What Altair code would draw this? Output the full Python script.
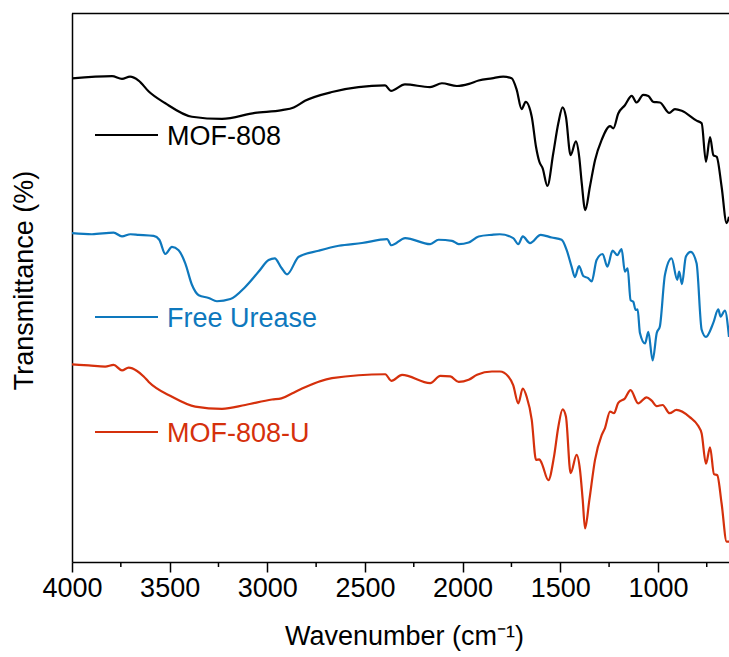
import altair as alt
import pandas as pd

# ---- data (wavenumber in cm-1, transmittance in arbitrary % units) ----
mof_wn = [4000, 3795, 3744, 3703, 3659, 3607, 3524, 3386, 3232, 3063, 2925, 2865, 2807, 2669, 2397,
          2367, 2295, 2167, 2106, 2029, 1967, 1918, 1850, 1792, 1749, 1723, 1698, 1677, 1646, 1624,
          1607, 1590, 1566, 1536, 1510, 1488, 1471, 1447, 1420, 1403, 1390, 1372, 1348, 1322, 1288,
          1245, 1228, 1203, 1169, 1134, 1109, 1075, 1049, 1024, 990, 942, 913, 878, 802, 776,
          754, 733, 716, 699, 674, 648, 636]
mof_t = [88.1, 88.5, 88.0, 88.4, 87.7, 85.7, 83.6, 81.1, 80.7, 81.8, 82.3, 82.8, 84.0, 85.6, 86.8,
         85.8, 87.0, 86.5, 87.2, 86.7, 87.1, 87.7, 88.1, 88.4, 88.1, 86.0, 82.5, 83.8, 81.1, 75.6,
         72.9, 71.7, 68.5, 74.4, 79.9, 82.8, 81.1, 74.1, 76.6, 73.8, 69.0, 64.1, 68.4, 73.2, 76.9,
         79.4, 79.0, 81.7, 83.2, 84.9, 83.7, 85.1, 84.9, 83.8, 83.7, 81.8, 82.5, 82.2, 80.4, 79.9,
         72.9, 77.4, 74.1, 73.8, 68.4, 61.7, 62.9]

urease_wn = [4000, 3898, 3787, 3744, 3701, 3659, 3582, 3553, 3522, 3488, 3454, 3420, 3386, 3351, 3300,
             3258, 3189, 3113, 3044, 2993, 2962, 2928, 2899, 2839, 2737, 2634, 2515, 2387, 2365, 2294,
             2166, 2123, 2054, 2020, 1969, 1918, 1850, 1809, 1741, 1715, 1692, 1655, 1600, 1544, 1493,
             1467, 1442, 1425, 1404, 1382, 1357, 1339, 1314, 1283, 1259, 1232, 1208, 1186, 1169, 1155,
             1140, 1126, 1114, 1104, 1092, 1066, 1049, 1027, 1006, 990, 964, 930, 901, 891, 877,
             857, 832, 802, 776, 754, 717, 691, 679, 657, 636]
urease_t = [59.9, 59.7, 60.0, 59.3, 59.7, 59.6, 59.4, 58.7, 56.1, 57.4, 56.8, 54.4, 50.5, 48.6, 48.1,
            47.5, 47.9, 50.1, 52.9, 55.0, 55.3, 53.6, 52.4, 55.6, 56.7, 57.6, 58.1, 58.8, 57.7, 59.0,
            57.9, 58.7, 58.5, 57.9, 58.2, 59.3, 59.6, 59.7, 59.0, 57.9, 59.3, 58.1, 59.6, 59.1, 58.7,
            56.8, 53.8, 51.9, 53.9, 52.1, 51.7, 51.1, 55.0, 56.1, 53.8, 56.7, 55.9, 57.0, 52.9, 53.5,
            47.7, 47.4, 45.9, 46.0, 41.7, 39.8, 41.9, 36.7, 41.7, 42.9, 52.3, 55.3, 51.4, 52.9, 50.6,
            55.6, 56.5, 54.4, 42.3, 41.0, 43.5, 46.0, 44.7, 45.8, 41.0]

mofu_wn = [4000, 3914, 3830, 3787, 3744, 3710, 3667, 3633, 3607, 3488, 3369, 3232, 3113, 2976, 2928,
           2874, 2822, 2669, 2396, 2365, 2310, 2166, 2114, 2063, 2020, 1969, 1926, 1850, 1809, 1766,
           1741, 1715, 1692, 1672, 1646, 1624, 1607, 1595, 1561, 1532, 1510, 1488, 1471, 1447, 1416,
           1399, 1385, 1373, 1351, 1322, 1288, 1271, 1245, 1225, 1203, 1169, 1140, 1101, 1058, 1032,
           1006, 976, 940, 905, 837, 794, 776, 754, 733, 713, 696, 674, 648, 636]
mofu_t = [36.0, 35.8, 35.6, 35.9, 34.9, 35.4, 34.8, 33.8, 32.8, 30.1, 28.3, 27.9, 28.6, 29.6, 29.8,
          30.7, 31.6, 33.5, 34.2, 33.0, 34.1, 32.6, 33.9, 33.8, 32.8, 33.2, 34.1, 34.7, 34.7, 33.8,
          32.2, 28.9, 31.6, 30.1, 25.9, 18.6, 18.7, 18.0, 14.9, 19.2, 24.6, 27.8, 26.5, 16.2, 19.5,
          16.8, 11.3, 6.1, 11.3, 18.6, 23.1, 24.4, 27.4, 27.1, 29.0, 29.8, 31.3, 28.9, 30.0, 29.4,
          28.4, 28.6, 27.1, 27.7, 26.4, 24.8, 23.4, 17.9, 20.9, 16.0, 15.8, 10.7, 3.7, 3.7]

series_names = ["MOF-808", "Free Urease", "MOF-808-U"]
series_colors = ["#000000", "#0E78BD", "#D5300C"]
major_ticks = [4000, 3500, 3000, 2500, 2000, 1500, 1000]
minor_ticks = [3750, 3250, 2750, 2250, 1750, 1250, 750]

# ---- layout ----
W, H = 657, 549
FONT = "Liberation Sans"
FS = 27

frames = []
for name, wn, t in zip(series_names, [mof_wn, urease_wn, mofu_wn], [mof_t, urease_t, mofu_t]):
    frames.append(pd.DataFrame({"wn": wn, "t": t, "series": name}))
df = pd.concat(frames, ignore_index=True)

x_scale = alt.Scale(domain=[4000, 636], nice=False, zero=False)
y_scale = alt.Scale(domain=[0, 100], nice=False, zero=False)
color_scale = alt.Scale(domain=series_names, range=series_colors)

x_axis = alt.Axis(
    values=major_ticks, format="d", grid=False,
    tickSize=10, tickWidth=1.5, tickColor="black",
    domainColor="black", domainWidth=1.5,
    labelFont=FONT, labelFontSize=FS, labelColor="black", labelPadding=3,
    labelFlush=False, labelOverlap=False,
    title="Wavenumber (cm⁻¹)", titleFont=FONT, titleFontSize=FS,
    titleFontWeight="normal", titleColor="black",
    titleX=332, titleY=74, titleBaseline="middle", titleAlign="center")

lines = alt.Chart(df).mark_line(strokeWidth=2.2, clip=True, interpolate="monotone").encode(
    x=alt.X("wn:Q", scale=x_scale, axis=x_axis),
    y=alt.Y("t:Q", scale=y_scale, axis=alt.Axis(
        labels=False, ticks=False, grid=False,
        domainColor="black", domainWidth=1.5,
        title="Transmittance (%)", titleFont=FONT, titleFontSize=FS,
        titleFontWeight="normal", titleColor="black", titleAngle=-90,
        titleX=-48, titleY=267, titleBaseline="middle", titleAlign="center")),
    color=alt.Color("series:N", scale=color_scale, legend=None),
    detail="series:N",
)

minor = alt.Chart(pd.DataFrame({"wn": minor_ticks})).mark_rule(
    color="black", strokeWidth=1.5).encode(
    x=alt.X("wn:Q", scale=x_scale, axis=x_axis),
    y=alt.value(H), y2=alt.value(H + 5),
)

one = pd.DataFrame({"a": [0]})
top_border = alt.Chart(one).mark_rule(color="black", strokeWidth=1.5).encode(
    x=alt.value(0), x2=alt.value(W), y=alt.value(0.5))

legend_layers = []
for name, color, ypos in zip(series_names, series_colors, [122, 304, 419]):
    legend_layers.append(alt.Chart(one).mark_rule(color=color, strokeWidth=2.2).encode(
        x=alt.value(23), x2=alt.value(86), y=alt.value(ypos)))
    legend_layers.append(alt.Chart(one).mark_text(
        text=name, color=color, font=FONT, fontSize=FS, align="left", baseline="middle").encode(
        x=alt.value(95), y=alt.value(ypos + 2)))

chart = alt.layer(lines, minor, top_border, *legend_layers).properties(
    width=W, height=H,
    autosize=alt.AutoSizeParams(type="none"),
    padding={"left": 72, "top": 13, "right": 0, "bottom": 95},
).configure_view(stroke=None).configure(background="white")

chart.save("out.html", embed_options={"renderer": "svg", "actions": False})
